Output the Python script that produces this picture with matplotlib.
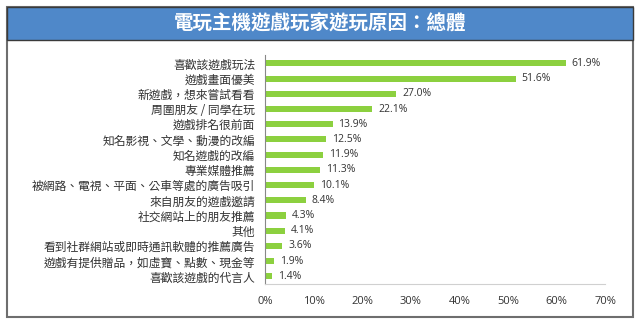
import matplotlib.pyplot as plt
from matplotlib.patches import Rectangle

plt.rcParams['font.family'] = ['Noto Sans CJK TC', 'DejaVu Sans']

title = "電玩主機遊戲玩家遊玩原因：總體"
reasons = [
    "喜歡該遊戲玩法",
    "遊戲畫面優美",
    "新遊戲，想來嘗試看看",
    "周圍朋友 / 同學在玩",
    "遊戲排名很前面",
    "知名影視、文學、動漫的改編",
    "知名遊戲的改編",
    "專業媒體推薦",
    "被網路、電視、平面、公車等處的廣告吸引",
    "來自朋友的遊戲邀請",
    "社交網站上的朋友推薦",
    "其他",
    "看到社群網站或即時通訊軟體的推薦廣告",
    "遊戲有提供贈品，如虛寶、點數、現金等",
    "喜歡該遊戲的代言人",
]
share = [61.9, 51.6, 27.0, 22.1, 13.9, 12.5, 11.9, 11.3, 10.1, 8.4, 4.3, 4.1, 3.6, 1.9, 1.4]
xticks = [0, 10, 20, 30, 40, 50, 60, 70]

fig = plt.figure(figsize=(6.4, 3.22), dpi=100)

# outer frame and title banner
fig.patches.append(Rectangle((7 / 640, 1 - 317 / 322), 626 / 640, 310 / 322,
                             transform=fig.transFigure, facecolor="white",
                             edgecolor="#6e6e6e", linewidth=1.5, zorder=0))
fig.patches.append(Rectangle((7 / 640, 1 - 40 / 322), 626 / 640, 33 / 322,
                             transform=fig.transFigure, facecolor="#4f88c9",
                             edgecolor="#3a3a3a", linewidth=1.0, zorder=1))
fig.text(0.5, 1 - 23.5 / 322, title, color="white", fontsize=14,
         fontweight="bold", ha="center", va="center")

ax = fig.add_axes([265 / 640, 38 / 322, 340 / 640, 229 / 322])
ax.set_zorder(3)
ax.set_facecolor("none")
y = list(range(len(reasons)))
ax.barh(y, share, height=0.4, color="#8cd03f")
for yi, v in zip(y, share):
    ax.text(v + 1.2, yi, f"{v:.1f}%", va="center", ha="left", fontsize=7.5,
            color="#333333", family=["Open Sans", "DejaVu Sans"])

ax.set_ylim(len(reasons) - 0.5, -0.55)
ax.set_xlim(0, 70)
ax.set_yticks(y)
ax.set_yticklabels(reasons, fontsize=8.5, color="#333333")
ax.set_xticks(xticks)
ax.set_xticklabels([f"{t}%" for t in xticks], fontsize=8, color="#333333",
                   family=["Open Sans", "DejaVu Sans"])
ax.tick_params(axis="y", length=0, pad=7)
ax.tick_params(axis="x", length=0, pad=9)
for s in ["top", "right"]:
    ax.spines[s].set_visible(False)
ax.spines["left"].set_color("#888888")
ax.spines["bottom"].set_color("#d0d0d0")

fig.savefig("out.png", dpi=100)
